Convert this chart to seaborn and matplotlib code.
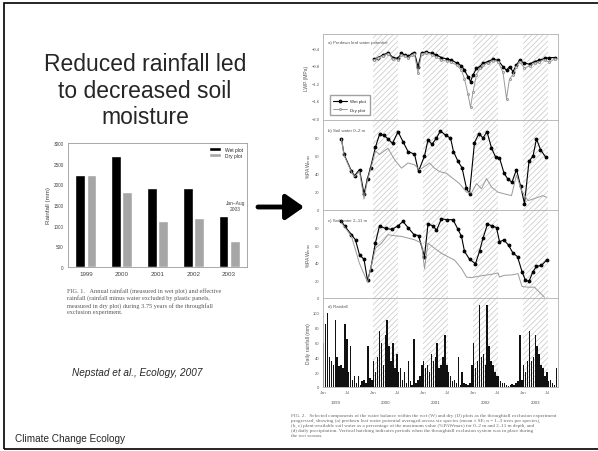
import pandas as pd
import matplotlib
matplotlib.use("Agg")
import matplotlib.pyplot as plt
import seaborn as sns
from matplotlib.patches import Rectangle

# ============================================================
# DATA
# ============================================================

# left panel: annual rainfall
YEARS = ["1999", "2000", "2001", "2002", "2003"]
WET_ANNUAL = [2220, 2690, 1900, 1920, 1230]
DRY_ANNUAL = [2220, 1810, 1110, 1190, 620]

# a) predawn leaf water potential (MPa)
LWP_T = [2000.03, 2000.10, 2000.20, 2000.30, 2000.40, 2000.50, 2000.57, 2000.63, 2000.70, 2000.77,
         2000.83, 2000.90, 2000.97, 2001.07, 2001.17, 2001.27, 2001.37, 2001.47, 2001.57, 2001.67,
         2001.77, 2001.83, 2001.90, 2001.95, 2002.00, 2002.07, 2002.13, 2002.20, 2002.30, 2002.40,
         2002.50, 2002.60, 2002.67, 2002.73, 2002.80, 2002.87, 2002.93, 2003.03, 2003.13, 2003.23,
         2003.33, 2003.43, 2003.53, 2003.63]
LWP_WET = [-0.65, -0.61, -0.55, -0.50, -0.61, -0.63, -0.51, -0.55, -0.58, -0.53,
           -0.50, -0.82, -0.50, -0.48, -0.51, -0.55, -0.61, -0.64, -0.67, -0.73,
           -0.80, -0.90, -1.05, -1.16, -1.01, -0.86, -0.82, -0.74, -0.70, -0.65,
           -0.67, -0.82, -0.90, -0.82, -0.93, -0.78, -0.67, -0.74, -0.76, -0.70,
           -0.67, -0.63, -0.61, -0.61]
LWP_DRY = [-0.66, -0.62, -0.57, -0.52, -0.64, -0.66, -0.54, -0.58, -0.61, -0.56,
           -0.53, -0.97, -0.53, -0.50, -0.54, -0.60, -0.66, -0.69, -0.72, -0.78,
           -0.90, -1.10, -1.45, -1.75, -1.40, -1.00, -0.86, -0.78, -0.73, -0.68,
           -0.70, -0.95, -1.55, -1.10, -1.00, -0.82, -0.70, -0.85, -0.80, -0.74,
           -0.70, -0.66, -0.72, -0.64]

# b) soil water 0-2 m (% of max PAW)
SW2_WET_T = [1999.37, 1999.42, 1999.57, 1999.63, 1999.73, 1999.82, 1999.89, 1999.95, 2000.05, 2000.13,
             2000.22, 2000.30, 2000.39, 2000.50, 2000.60, 2000.70, 2000.83, 2000.91, 2001.03, 2001.10,
             2001.18, 2001.27, 2001.35, 2001.45, 2001.55, 2001.61, 2001.70, 2001.78, 2001.87, 2001.93,
             2002.03, 2002.12, 2002.20, 2002.28, 2002.37, 2002.45, 2002.53, 2002.62, 2002.70, 2002.78,
             2002.87, 2002.95, 2003.03, 2003.12, 2003.20, 2003.27, 2003.35, 2003.45]
SW2_WET = [79, 62, 43, 38, 45, 18, 35, 47, 70, 84,
           83, 79, 74, 87, 76, 65, 62, 43, 60, 78,
           73, 80, 88, 83, 80, 65, 54, 47, 24, 18,
           75, 85, 80, 87, 69, 59, 58, 41, 34, 31,
           45, 27, 7, 54, 60, 79, 67, 59]
SW2_DRY_T = [1999.37, 1999.42, 1999.57, 1999.63, 1999.73, 1999.82, 1999.89, 1999.95, 2000.05, 2000.13,
             2000.30, 2000.43, 2000.57, 2000.70, 2000.83, 2000.93, 2001.03, 2001.13, 2001.23, 2001.33,
             2001.47, 2001.60, 2001.73, 2001.87, 2001.97, 2002.07, 2002.17, 2002.27, 2002.37, 2002.50,
             2002.63, 2002.77, 2002.87, 2002.97, 2003.10, 2003.20, 2003.30, 2003.40, 2003.47]
SW2_DRY = [78.9, 61.0, 41.9, 37.0, 42.7, 12.2, 33.1, 44.6, 65.5, 61.7,
           68.6, 56.0, 46.5, 52.2, 50.3, 44.6, 48.4, 52.2, 46.5, 42.7,
           40.8, 35.0, 29.3, 19.8, 19.0, 29.3, 23.6, 35.0, 25.5, 19.8,
           17.9, 16.0, 38.9, 21.7, 10.3, 12.2, 14.1, 16.0, 14.1]

# c) soil water 2-11 m (% of max PAW)
SW11_WET_T = [1999.37, 1999.43, 1999.57, 1999.65, 1999.73, 1999.82, 1999.89, 1999.95, 2000.05, 2000.13,
              2000.25, 2000.38, 2000.50, 2000.60, 2000.70, 2000.82, 2000.91, 2001.03, 2001.10, 2001.20,
              2001.27, 2001.37, 2001.47, 2001.60, 2001.70, 2001.77, 2001.83, 2001.93, 2002.05, 2002.13,
              2002.20, 2002.29, 2002.38, 2002.47, 2002.53, 2002.62, 2002.71, 2002.80, 2002.89, 2002.98,
              2003.05, 2003.12, 2003.20, 2003.27, 2003.37, 2003.47]
SW11_WET = [87, 82, 72, 66, 49, 44, 20, 32, 63, 82,
            79, 78, 82, 87, 80, 72, 71, 47, 84, 82,
            77, 90, 89, 89, 78, 70, 53, 44, 39, 53,
            68, 84, 82, 80, 64, 66, 60, 51, 47, 30,
            20, 19, 30, 36, 37, 43]
SW11_DRY_T = [1999.37, 1999.57, 1999.73, 1999.89, 2000.05, 2000.17, 2000.30, 2000.43, 2000.57, 2000.70,
              2000.83, 2000.97, 2001.03, 2001.10, 2001.23, 2001.37, 2001.50, 2001.63, 2001.77, 2001.87,
              2001.97, 2002.10, 2002.23, 2002.37, 2002.50, 2002.53, 2002.63, 2002.77, 2002.90, 2002.98,
              2003.10, 2003.23, 2003.33, 2003.43]
SW11_DRY = [85.4, 70.0, 39.2, 18.1, 56.5, 62.3, 71.9, 70.8, 70.0, 68.1,
            66.2, 62.3, 33.5, 62.3, 56.5, 50.8, 46.9, 43.1, 33.5, 23.8,
            23.1, 24.6, 25.8, 26.9, 28.5, 23.8, 25.8, 26.2, 27.7, 13.1,
            12.3, 12.3, 6.5, 0.8]

# d) rainfall, largest daily value in each two-week window (mm)
RAIN_1999 = [60, 85, 100, 40, 35, 30, 90, 40, 28, 30, 25, 85, 65, 20, 55, 10, 15, 5, 15, 3, 8, 10, 5, 55, 12, 10]
RAIN_2000 = [35, 20, 40, 75, 60, 30, 70, 90, 55, 35, 60, 25, 45, 20, 25, 10, 20, 5, 35, 8, 3, 65, 5, 10, 15, 30]
RAIN_2001 = [35, 25, 30, 20, 45, 35, 40, 60, 25, 30, 40, 70, 30, 20, 15, 8, 10, 5, 40, 3, 20, 5, 4, 3, 6, 30]
RAIN_2002 = [60, 25, 35, 110, 40, 45, 30, 110, 55, 35, 30, 20, 15, 15, 8, 5, 5, 3, 2, 3, 4, 3, 5, 8, 70, 10]
RAIN_2003 = [30, 20, 35, 75, 35, 40, 70, 55, 45, 30, 25, 15, 20, 8, 10, 5, 3, 25]

# exclusion (hatched) periods
EXCL_START = [2000.0, 2001.0, 2002.0, 2003.0]
EXCL_END = [2000.5, 2001.5, 2002.5, 2003.5]

TICK_T = [1999, 1999.5, 2000, 2000.5, 2001, 2001.5, 2002, 2002.5, 2003, 2003.5]
TICK_LABELS = ["Jan", "Jul"] * 5

# ============================================================
# SETUP
# ============================================================

sns.set_style("white")
plt.rcParams["font.family"] = ["Liberation Sans", "DejaVu Sans"]
plt.rcParams["hatch.linewidth"] = 0.5

W, H = 598, 452
fig = plt.figure(figsize=(W / 100, H / 100), dpi=100)


def fbox(left, top, right, bottom):
    return [left / W, 1 - bottom / H, (right - left) / W, (bottom - top) / H]


# slide frame + text
fig.add_artist(Rectangle((4 / W, 1 - 450 / H), 1.0, 446 / H, transform=fig.transFigure,
                         fill=False, lw=1.2, edgecolor="black"))
fig.text(145 / W, 1 - 91 / H, "Reduced rainfall led\nto decreased soil\nmoisture",
         ha="center", va="center", fontsize=16.5, linespacing=1.2)
fig.text(137 / W, 1 - 373 / H, "Nepstad et al., Ecology, 2007", ha="center", va="center",
         fontsize=7.2, style="italic")
fig.text(15 / W, 1 - 439 / H, "Climate Change Ecology", ha="left", va="center", fontsize=7.2)

# ============================================================
# LEFT: ANNUAL RAINFALL BARS
# ============================================================

ax_bar = fig.add_axes(fbox(68, 144, 247, 268))
bar_df = pd.DataFrame({
    "year": YEARS * 2,
    "plot": ["Wet plot"] * len(YEARS) + ["Dry plot"] * len(YEARS),
    "rain": WET_ANNUAL + DRY_ANNUAL,
})
sns.barplot(data=bar_df, x="year", y="rain", hue="plot",
            palette={"Wet plot": "black", "Dry plot": "#a6a6a6"},
            width=0.62, gap=0.12, saturation=1, ax=ax_bar)
ax_bar.set_ylim(0, 3000)
ax_bar.set_yticks(range(0, 3001, 500))
ax_bar.set_xlabel("")
ax_bar.set_ylabel("Rainfall (mm)", fontsize=4.5, color="#444", labelpad=2)
ax_bar.tick_params(axis="y", labelsize=3.3, labelcolor="#444", length=1.5, width=0.4, pad=1.5)
ax_bar.tick_params(axis="x", labelsize=4.5, labelcolor="#444", length=0, pad=3)
for s in ax_bar.spines.values():
    s.set_color("#9a9a9a")
    s.set_linewidth(0.6)
ax_bar.legend(loc="upper right", fontsize=3.5, frameon=False, handlelength=2.6,
              handleheight=0.7, labelspacing=0.2, borderaxespad=0.4)
ax_bar.text(4.17, 1480, "Jan\u2013Aug\n2003", ha="center", va="center", fontsize=3.5, color="#444")

fig.text(67 / W, 1 - 288 / H,
         "FIG. 1.   Annual rainfall (measured in wet plot) and effective\n"
         "rainfall (rainfall minus water excluded by plastic panels,\n"
         "measured in dry plot) during 3.75 years of the throughfall\n"
         "exclusion experiment.",
         ha="left", va="top", fontsize=4.5, family="Liberation Serif", color="#555",
         linespacing=1.3)

# arrow
fig.add_artist(matplotlib.patches.FancyArrowPatch(
    (258 / W, 1 - 208 / H), (304 / W, 1 - 208 / H), transform=fig.transFigure,
    arrowstyle="-|>,head_length=5,head_width=3.5", lw=3.5, color="black",
    mutation_scale=2.2, shrinkA=0, shrinkB=0))

# ============================================================
# RIGHT: 4-PANEL TIME SERIES
# ============================================================

LEFT, RIGHT = 323, 558
ax_a = fig.add_axes(fbox(LEFT, 35, RIGHT, 121))
ax_b = fig.add_axes(fbox(LEFT, 121, RIGHT, 211))
ax_c = fig.add_axes(fbox(LEFT, 211, RIGHT, 299))
ax_d = fig.add_axes(fbox(LEFT, 299, RIGHT, 388))
panels = [ax_a, ax_b, ax_c, ax_d]

for ax in panels:
    for s0, s1 in zip(EXCL_START, EXCL_END):
        ax.axvspan(s0, s1, facecolor="none", edgecolor="#c6c6c6", hatch="//////", lw=0, zorder=0)
    ax.set_xlim(1999.0, 2003.7)
    ax.set_xticks(TICK_T)
    ax.tick_params(labelsize=3, labelcolor="#555", length=1.5, width=0.4, color="#999", pad=1)
    for s in ax.spines.values():
        s.set_color("#b0b0b0")
        s.set_linewidth(0.6)
    if ax is not ax_d:
        ax.set_xticklabels([])

wet_kw = dict(color="black", lw=0.8, marker="o", markersize=2.0, markeredgecolor="black")
dry_kw = dict(color="#9a9a9a", lw=0.7)

# a
sns.lineplot(x=LWP_T, y=LWP_WET, ax=ax_a, label="Wet plot", **wet_kw)
sns.lineplot(x=LWP_T, y=LWP_DRY, ax=ax_a, label="Dry plot", marker="o", markersize=1.4,
             markerfacecolor="white", markeredgecolor="#9a9a9a", **dry_kw)
ax_a.set_ylim(-2.04, -0.07)
ax_a.set_yticks([-2.0, -1.6, -1.2, -0.8, -0.4])
ax_a.set_ylabel("LWP (MPa)", fontsize=3.6, color="#555", labelpad=1.5)
ax_a.legend(loc="lower left", bbox_to_anchor=(0.02, 0.03), fontsize=3.2, handlelength=3,
            frameon=True, edgecolor="#888", fancybox=False, borderpad=0.8, labelspacing=1.0)
ax_a.text(0.02, 0.9, "a) Predawn leaf water potential", transform=ax_a.transAxes,
          fontsize=3.2, color="#555")

# b
sns.lineplot(x=SW2_WET_T, y=SW2_WET, ax=ax_b, **wet_kw)
sns.lineplot(x=SW2_DRY_T, y=SW2_DRY, ax=ax_b, **dry_kw)
ax_b.text(0.02, 0.88, "b) Soil water 0\u20132 m", transform=ax_b.transAxes, fontsize=3.2, color="#555")

# c
sns.lineplot(x=SW11_WET_T, y=SW11_WET, ax=ax_c, **wet_kw)
sns.lineplot(x=SW11_DRY_T, y=SW11_DRY, ax=ax_c, **dry_kw)
ax_c.text(0.02, 0.88, "c) Soil water 2\u201311 m", transform=ax_c.transAxes, fontsize=3.2, color="#555")

for ax in (ax_b, ax_c):
    ax.set_ylim(0, 100)
    ax.set_yticks([0, 20, 40, 60, 80])
    ax.set_ylabel("%PAW$_{max}$", fontsize=3.6, color="#555", labelpad=1.5)

# d
rain = RAIN_1999 + RAIN_2000 + RAIN_2001 + RAIN_2002 + RAIN_2003
rain_t = [1999 + i / 26 for i in range(len(rain))]
ax_d.bar(rain_t, rain, width=0.03, color="#111111", align="edge", lw=0, zorder=2)
ax_d.set_ylim(0, 120)
ax_d.set_yticks([0, 20, 40, 60, 80, 100])
ax_d.set_ylabel("Daily rainfall (mm)", fontsize=3.6, color="#555", labelpad=1.5)
ax_d.set_xticklabels(TICK_LABELS)
ax_d.text(0.02, 0.9, "d) Rainfall", transform=ax_d.transAxes, fontsize=3.2, color="#555")
for y in YEARS:
    ax_d.text(int(y) + 0.25, -0.17, y, transform=ax_d.get_xaxis_transform(),
              ha="center", va="center", fontsize=3.2, color="#555")

fig.text(291 / W, 1 - 414 / H,
         "FIG. 2.   Selected components of the water balance within the wet (W) and dry (D) plots as the throughfall exclusion experiment\n"
         "progressed, showing (a) predawn leaf water potential averaged across six species (mean \u00b1 SE; n = 1\u20133 trees per species),\n"
         "(b, c) plant-available soil water as a percentage of the maximum value (%PAWmax) for 0\u20132 m and 2\u201311 m depth, and\n"
         "(d) daily precipitation. Vertical hatching indicates periods when the throughfall exclusion system was in place during\n"
         "the wet season.",
         ha="left", va="top", fontsize=3.7, family="Liberation Serif", color="#666", linespacing=1.3)

plt.savefig("out.png", dpi=100)
plt.close()
